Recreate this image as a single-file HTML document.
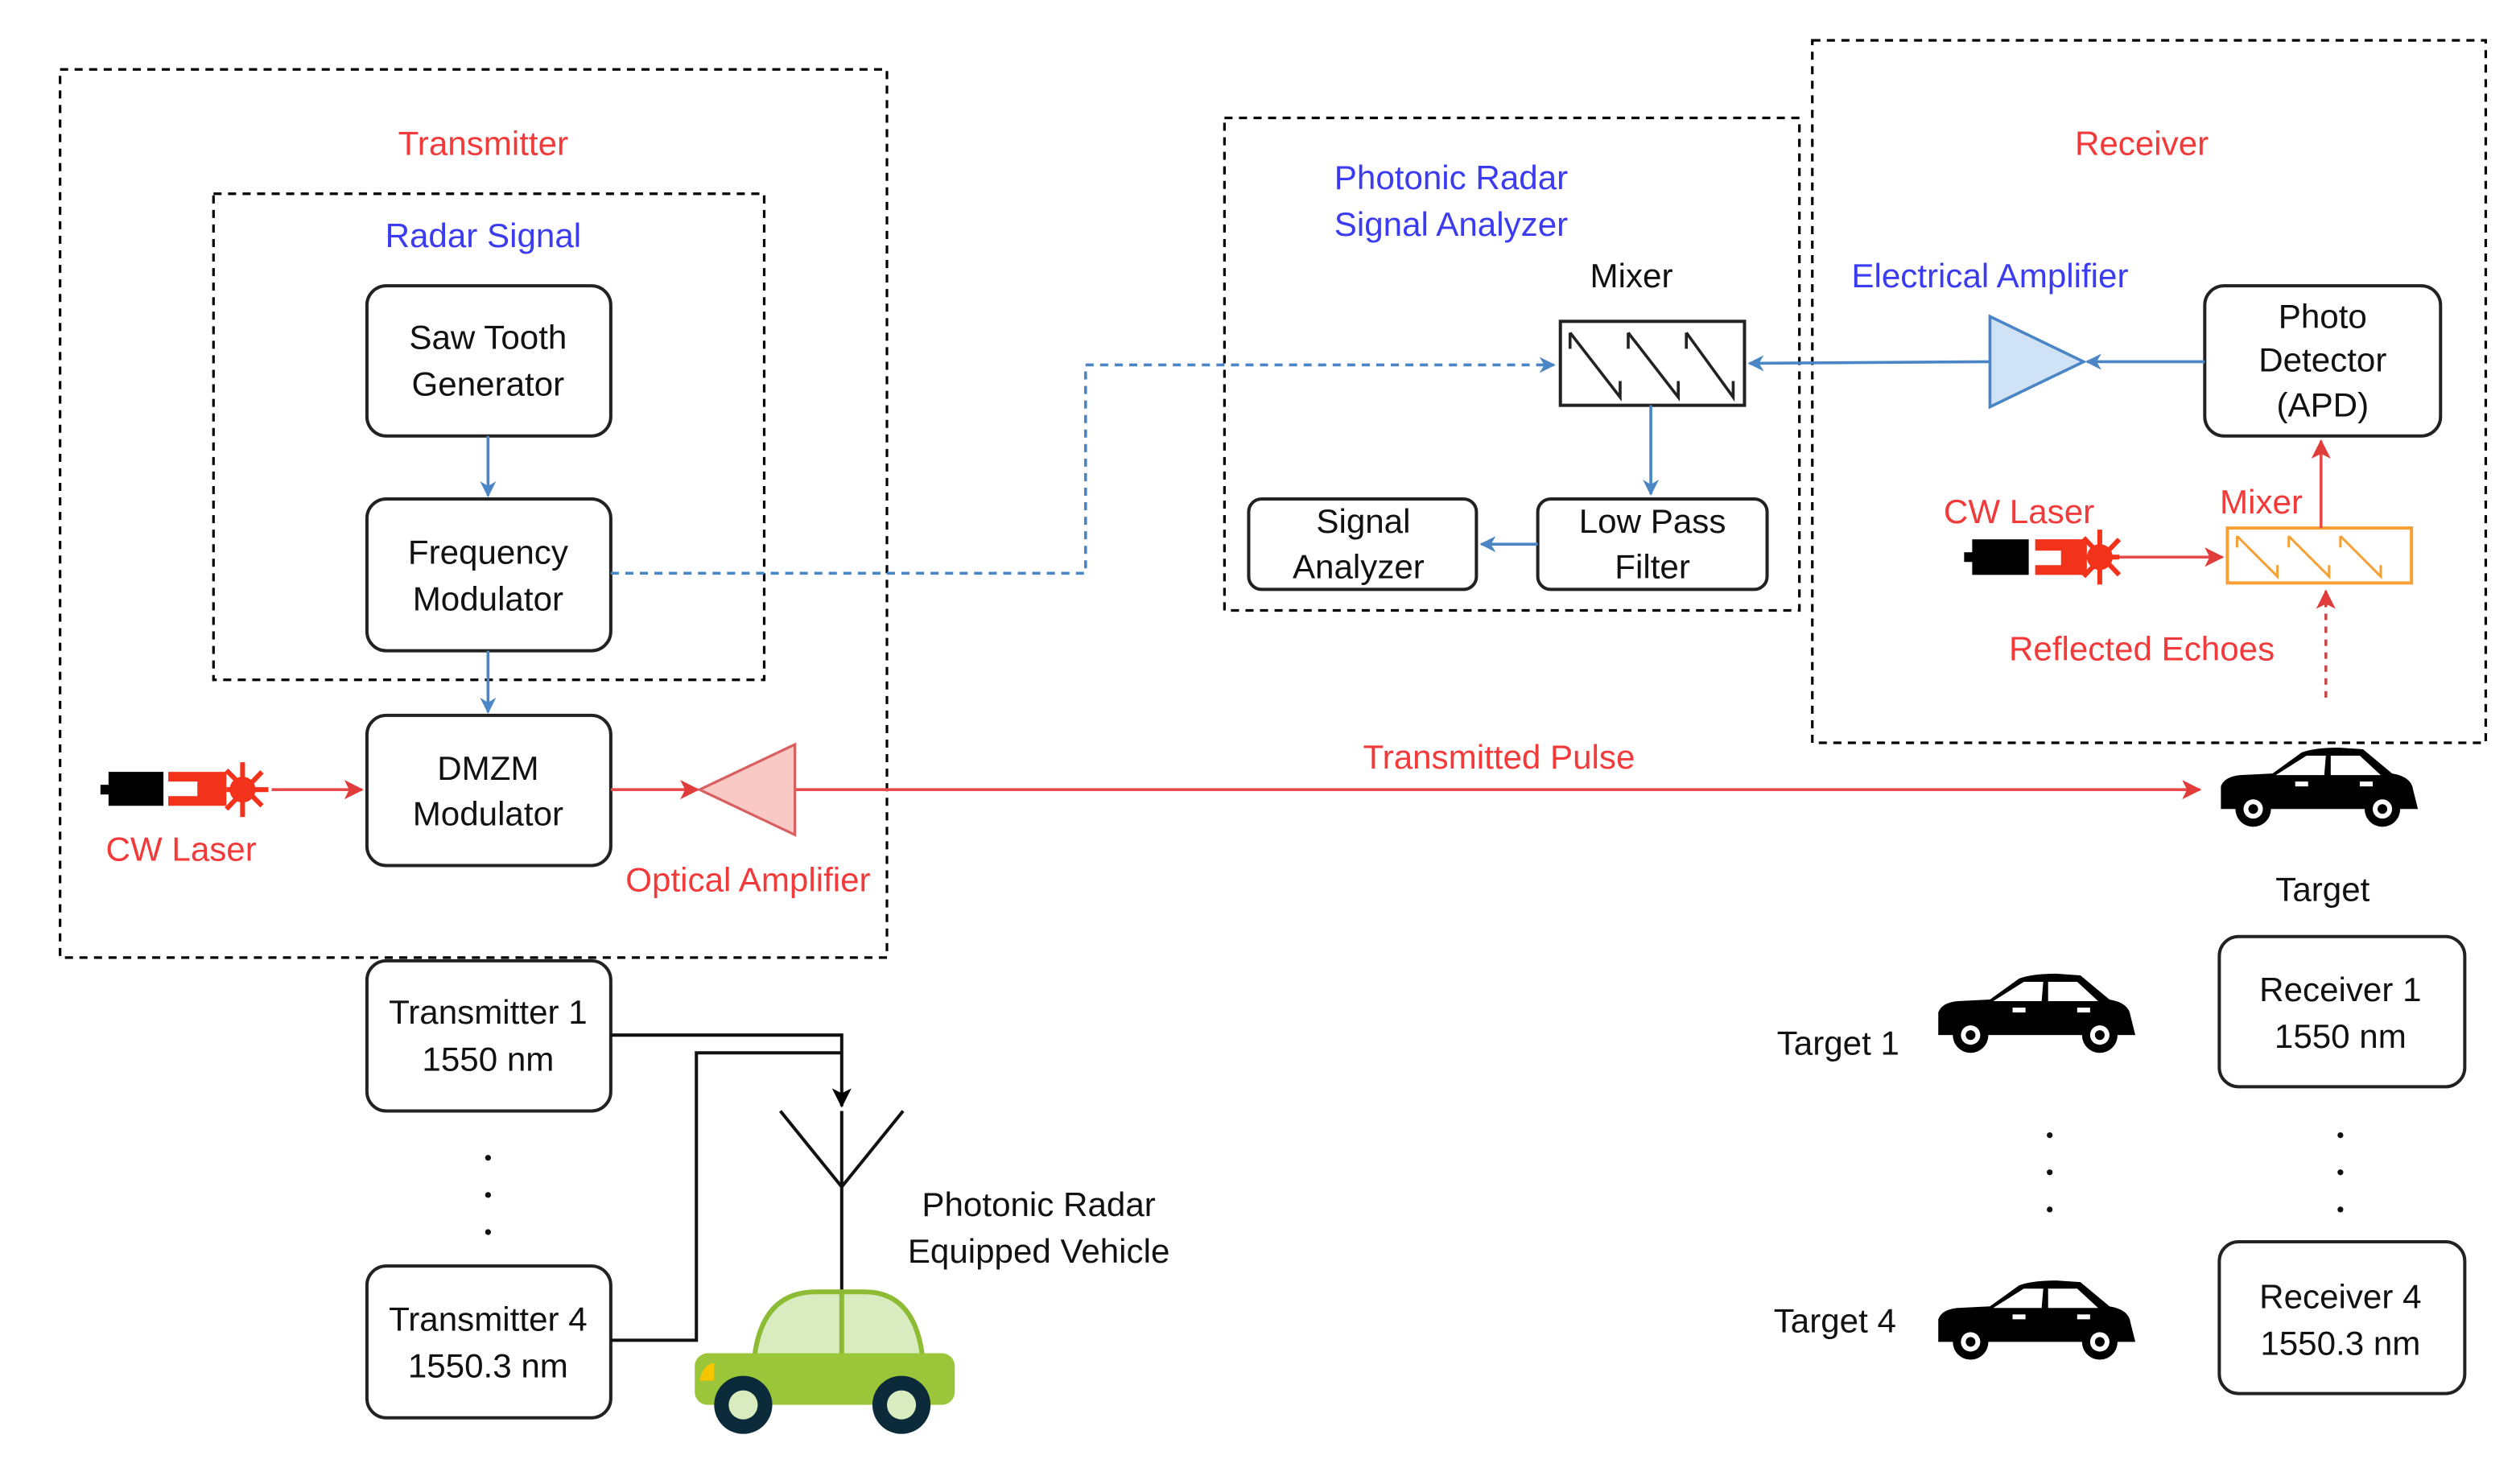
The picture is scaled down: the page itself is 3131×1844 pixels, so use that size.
<!DOCTYPE html>
<html><head><meta charset="utf-8"><style>html,body{margin:0;padding:0;background:#fff}svg{display:block}</style></head>
<body>
<svg width="3131" height="1844" viewBox="0 0 1560 919" xmlns="http://www.w3.org/2000/svg" font-family="Liberation Sans, Arial, sans-serif" font-size="21">
<defs>
<marker id="ab" markerWidth="10" markerHeight="10" refX="9" refY="5" orient="auto" markerUnits="userSpaceOnUse"><path d="M0,0 L10,5 L0,10 L3,5 Z" fill="#4a86c5"/></marker>
<marker id="ar" markerWidth="12" markerHeight="12" refX="11" refY="6" orient="auto" markerUnits="userSpaceOnUse"><path d="M0,0 L12,6 L0,12 L3,6 Z" fill="#e03c3c"/></marker>
<marker id="ak" markerWidth="12" markerHeight="12" refX="11" refY="6" orient="auto" markerUnits="userSpaceOnUse"><path d="M0,0 L12,6 L0,12 L3,6 Z" fill="#000"/></marker>
<g id="car">
<path d="M2,38 L2,24 Q4,18 14,17 L34,16 L52,3 Q60,0 75,0 L90,1 L108,16 Q120,18 121,26 L124,38 Z" fill="#000"/>
<path d="M36,17 L55,5 L67,5 L66,17 Z M70,5 L88,5 L101,17 L70,17 Z" fill="#fff"/>
<rect x="48" y="21" width="8" height="3" fill="#fff"/><rect x="88" y="21" width="8" height="3" fill="#fff"/>
<circle cx="22" cy="38" r="11" fill="#000"/><circle cx="22" cy="38" r="6" fill="#fff"/><circle cx="22" cy="38" r="3" fill="#000"/>
<circle cx="102" cy="38" r="11" fill="#000"/><circle cx="102" cy="38" r="6" fill="#fff"/><circle cx="102" cy="38" r="3" fill="#000"/>
</g>
</defs>
<g fill="none" stroke="#000" stroke-width="1.6" stroke-dasharray="5,4">
<rect x="37" y="43" width="512" height="550"/>
<rect x="132" y="120" width="341" height="301"/>
<rect x="758" y="73" width="356" height="305"/>
<rect x="1122" y="25" width="417" height="435"/>
</g>
<g fill="#fff" stroke="#222" stroke-width="2">
<rect x="227" y="177" width="151" height="93" rx="12"/>
<rect x="227" y="309" width="151" height="94" rx="12"/>
<rect x="227" y="443" width="151" height="93" rx="12"/>
<rect x="773" y="309" width="141" height="56" rx="8"/>
<rect x="952" y="309" width="142" height="56" rx="8"/>
<rect x="1365" y="177" width="146" height="93" rx="12"/>
<rect x="227" y="595" width="151" height="93" rx="12"/>
<rect x="227" y="784" width="151" height="94" rx="12"/>
<rect x="1374" y="580" width="152" height="93" rx="12"/>
<rect x="1374" y="769" width="152" height="94" rx="12"/>
</g>
<rect x="966" y="199" width="114" height="52" fill="#fff" stroke="#222" stroke-width="2"/>
<path d="M972,206 L1003,246 L1003,236 M1008,206 L1039,246 L1039,236 M1044,206 L1073,246 L1073,236 M972,206 L972,216 M1008,206 L1008,216 M1044,206 L1044,216" fill="none" stroke="#222" stroke-width="1.8"/>
<rect x="1379" y="327" width="114" height="34" fill="#fff" stroke="#f7a035" stroke-width="2"/>
<path d="M1385,332 L1410,357 L1410,350 M1417,332 L1442,357 L1442,350 M1449,332 L1474,357 L1474,350 M1385,332 L1385,339 M1417,332 L1417,339 M1449,332 L1449,339" fill="none" stroke="#f7a035" stroke-width="1.5"/>
<!-- blue connectors -->
<g stroke="#4a86c5" stroke-width="1.8" fill="none">
<line x1="302" y1="270" x2="302" y2="307" marker-end="url(#ab)"/>
<line x1="302" y1="403" x2="302" y2="441" marker-end="url(#ab)"/>
<polyline points="378,355 672,355 672,226 962,226" stroke-dasharray="5,4" marker-end="url(#ab)"/>
<line x1="1022" y1="251" x2="1022" y2="306" marker-end="url(#ab)"/>
<line x1="952" y1="337" x2="917" y2="337" marker-end="url(#ab)"/>
<line x1="1232" y1="224" x2="1083" y2="225" marker-end="url(#ab)"/>
<line x1="1365" y1="224" x2="1292" y2="224" marker-end="url(#ab)"/>
</g>
<polygon points="1232,196 1232,252 1290,224" fill="#cfe2f6" stroke="#4a86c5" stroke-width="1.8"/>
<!-- red connectors -->
<g stroke="#e84a4a" stroke-width="1.8" fill="none">
<line x1="168" y1="489" x2="224" y2="489" marker-end="url(#ar)"/>
<line x1="378" y1="489" x2="432" y2="489" marker-end="url(#ar)"/>
<line x1="492" y1="489" x2="1362" y2="489" marker-end="url(#ar)"/>
<line x1="1310" y1="345" x2="1376" y2="345" marker-end="url(#ar)"/>
<line x1="1437" y1="327" x2="1437" y2="273" marker-end="url(#ar)"/>
<line x1="1440" y1="432" x2="1440" y2="366" stroke-dasharray="4,4" stroke="#c84a4a" marker-end="url(#ar)"/>
</g>
<polygon points="433,489 492,461 492,517" fill="#f9c9c6" stroke="#d86060" stroke-width="1.6"/>
<!-- lasers -->
<g>
<rect x="62" y="486" width="6" height="6" fill="#000"/><rect x="67" y="478" width="34" height="21" fill="#000"/>
<path d="M104,478 L140,478 L140,499 L104,499 L104,493 L122,493 L122,484 L104,484 Z" fill="#f3321c"/>
<g stroke="#f3321c" stroke-width="3"><line x1="140" y1="489" x2="166" y2="489"/><line x1="150" y1="472" x2="150" y2="506"/><line x1="140" y1="477" x2="162" y2="499"/><line x1="140" y1="501" x2="162" y2="478"/></g>
<circle cx="150" cy="489" r="8" fill="#f3321c"/>
</g>
<g>
<rect x="1216" y="342" width="6" height="6" fill="#000"/><rect x="1221" y="334" width="35" height="22" fill="#000"/>
<path d="M1260,334 L1292,334 L1292,356 L1260,356 L1260,350 L1276,350 L1276,341 L1260,341 Z" fill="#f3321c"/>
<g stroke="#f3321c" stroke-width="3"><line x1="1290" y1="345" x2="1312" y2="345"/><line x1="1300" y1="328" x2="1300" y2="362"/><line x1="1290" y1="333" x2="1312" y2="356"/><line x1="1290" y1="357" x2="1312" y2="334"/></g>
<circle cx="1300" cy="345" r="8" fill="#f3321c"/>
</g>
<!-- black connectors / antenna -->
<g stroke="#111" stroke-width="2" fill="none">
<polyline points="378,641 521,641 521,685" marker-end="url(#ak)"/>
<polyline points="378,830 431,830 431,652 521,652"/>
<line x1="483" y1="688" x2="521" y2="735"/><line x1="559" y1="688" x2="521" y2="735"/>
<line x1="521" y1="688" x2="521" y2="805"/>
</g>
<g fill="#111"><circle cx="302" cy="717" r="1.8"/><circle cx="302" cy="740" r="1.8"/><circle cx="302" cy="763" r="1.8"/>
<circle cx="1269" cy="703" r="1.8"/><circle cx="1269" cy="726" r="1.8"/><circle cx="1269" cy="749" r="1.8"/>
<circle cx="1449" cy="703" r="1.8"/><circle cx="1449" cy="726" r="1.8"/><circle cx="1449" cy="749" r="1.8"/></g>
<!-- green car -->
<g>
<path d="M467,840 Q472,800 505,800 L535,800 Q566,800 571,840 Z" fill="#d9ecc0" stroke="#8dbb34" stroke-width="3"/>
<line x1="521" y1="800" x2="521" y2="840" stroke="#8dbb34" stroke-width="3"/>
<rect x="430" y="838" width="161" height="32" rx="8" fill="#9cc63a"/>
<path d="M433,855 Q435,845 442,844 L442,855 Z" fill="#f5c500"/>
<circle cx="460" cy="870" r="18" fill="#0b2a3a"/><circle cx="460" cy="870" r="9" fill="#d9ecc0"/>
<circle cx="558" cy="870" r="18" fill="#0b2a3a"/><circle cx="558" cy="870" r="9" fill="#d9ecc0"/>
</g>
<use href="#car" x="1373" y="463"/>
<use href="#car" x="1198" y="603"/>
<use href="#car" x="1198" y="793"/>
<!-- text -->
<g text-anchor="middle" fill="#111">
<text x="302" y="216">Saw Tooth</text><text x="302" y="245">Generator</text>
<text x="302" y="349">Frequency</text><text x="302" y="378">Modulator</text>
<text x="302" y="483">DMZM</text><text x="302" y="511">Modulator</text>
<text x="1010" y="178">Mixer</text>
<text x="844" y="330">Signal</text><text x="841" y="358">Analyzer</text>
<text x="1023" y="330">Low Pass</text><text x="1023" y="358">Filter</text>
<text x="1438" y="203">Photo</text><text x="1438" y="230">Detector</text><text x="1438" y="258">(APD)</text>
<text x="302" y="634">Transmitter 1</text><text x="302" y="663">1550 nm</text>
<text x="302" y="824">Transmitter 4</text><text x="302" y="853">1550.3 nm</text>
<text x="1449" y="620">Receiver 1</text><text x="1449" y="649">1550 nm</text>
<text x="1449" y="810">Receiver 4</text><text x="1449" y="839">1550.3 nm</text>
<text x="1438" y="558">Target</text>
<text x="1138" y="653">Target 1</text>
<text x="1136" y="825">Target 4</text>
<text x="643" y="753">Photonic Radar</text><text x="643" y="782">Equipped Vehicle</text>
</g>
<g text-anchor="middle" fill="#f23a3a">
<text x="299" y="96">Transmitter</text>
<text x="1326" y="96">Receiver</text>
<text x="112" y="533">CW Laser</text>
<text x="463" y="552">Optical Amplifier</text>
<text x="928" y="476">Transmitted Pulse</text>
<text x="1250" y="324">CW Laser</text>
<text x="1400" y="318">Mixer</text>
<text x="1326" y="409">Reflected Echoes</text>
</g>
<g fill="#3b3bf0">
<text x="299" y="153" text-anchor="middle">Radar Signal</text>
<text x="826" y="117">Photonic Radar</text>
<text x="826" y="146">Signal Analyzer</text>
<text x="1232" y="178" text-anchor="middle">Electrical Amplifier</text>
</g>
</svg>
</body></html>
